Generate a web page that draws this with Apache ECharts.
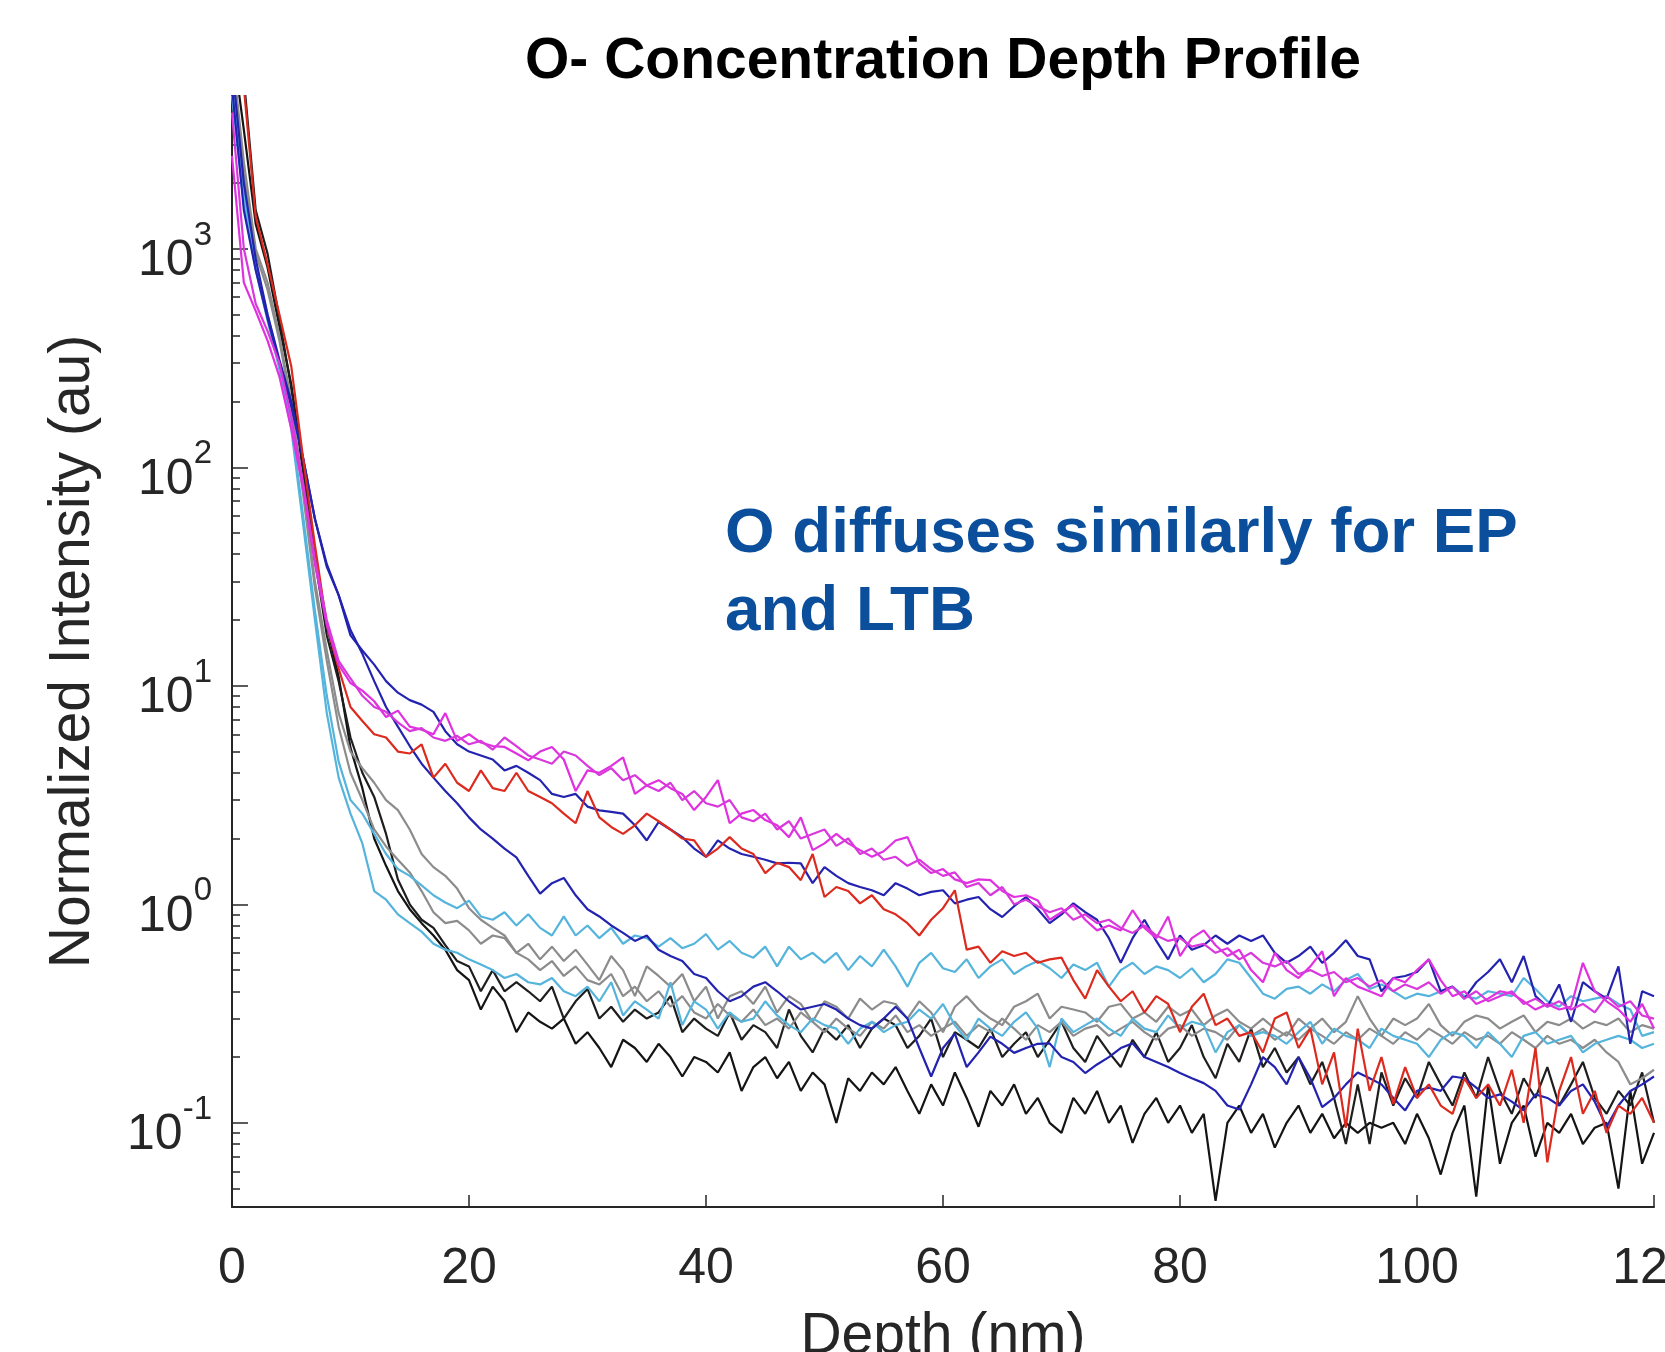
<!DOCTYPE html>
<html>
<head>
<meta charset="utf-8">
<script src="https://cdn.jsdelivr.net/npm/echarts@6/dist/echarts.min.js"></script>
<style>
html,body{margin:0;padding:0;background:#fff;}
#chart{width:1665px;height:1352px;}
</style>
</head>
<body>
<div id="chart"></div>
<script>
// ---- data ----
const titleText = 'O- Concentration Depth Profile';
const xAxisName = 'Depth (nm)';
const yAxisName = 'Normalized Intensity (au)';
const noteText = 'O diffuses similarly for EP\nand LTB';

const depth = [0,1,2,3,4,5,6,7,8,9,10,11,12,13,14,15,16,17,18,19,20,21,22,23,24,25,26,27,28,29,30,31,32,33,34,35,36,37,38,39,40,41,42,43,44,45,46,47,48,49,50,51,52,53,54,55,56,57,58,59,60,61,62,63,64,65,66,67,68,69,70,71,72,73,74,75,76,77,78,79,80,81,82,83,84,85,86,87,88,89,90,91,92,93,94,95,96,97,98,99,100,101,102,103,104,105,106,107,108,109,110,111,112,113,114,115,116,117,118,119,120];

const xTicks = [0, 20, 40, 60, 80, 100, 120];
const yMajorTicks = [0.1, 1, 10, 100, 1000];
const yMinorTicks = [0.05,0.06,0.07,0.08,0.09,0.2,0.3,0.4,0.5,0.6,0.7,0.8,0.9,2,3,4,5,6,7,8,9,20,30,40,50,60,70,80,90,200,300,400,500,600,700,800,900,2000,3000,4000];

const black2 = [9000,3500,1300,820,440,240,100,40,19,11,
5.2,3.4,2.0,1.5,1.15,0.95,0.82,0.72,0.62,0.5,
0.45,0.33,0.42,0.36,0.26,0.32,0.29,0.27,0.3,0.23,
0.26,0.22,0.18,0.24,0.22,0.19,0.23,0.2,0.163,0.2,
0.19,0.17,0.21,0.14,0.18,0.2,0.16,0.19,0.14,0.17,
0.15,0.1,0.16,0.14,0.17,0.15,0.18,0.14,0.11,0.15,
0.12,0.17,0.13,0.096,0.14,0.12,0.15,0.11,0.13,0.1,
0.09,0.13,0.11,0.14,0.1,0.12,0.081,0.11,0.13,0.1,
0.12,0.09,0.11,0.044,0.1,0.12,0.09,0.11,0.077,0.1,
0.12,0.09,0.11,0.085,0.1,0.09,0.1,0.095,0.1,0.08,
0.11,0.085,0.058,0.09,0.12,0.046,0.15,0.065,0.1,0.12,
0.07,0.1,0.09,0.11,0.08,0.095,0.1,0.05,0.14,0.065,0.09];

const black1 = [20000,6000,1500,950,480,230,95,38,17,10.5,
5.8,4.0,3.1,2.1,1.3,1.0,0.85,0.78,0.65,0.55,
0.52,0.4,0.5,0.4,0.44,0.4,0.36,0.42,0.3,0.36,
0.41,0.3,0.34,0.29,0.33,0.3,0.32,0.38,0.26,0.3,
0.27,0.25,0.32,0.24,0.28,0.26,0.22,0.33,0.25,0.21,
0.27,0.24,0.28,0.22,0.27,0.3,0.28,0.22,0.25,0.3,
0.2,0.26,0.24,0.22,0.27,0.2,0.23,0.26,0.2,0.24,
0.29,0.22,0.19,0.25,0.21,0.18,0.24,0.2,0.26,0.19,
0.22,0.28,0.2,0.16,0.23,0.19,0.27,0.18,0.22,0.17,
0.2,0.15,0.19,0.13,0.08,0.15,0.08,0.17,0.12,0.16,
0.13,0.19,0.15,0.12,0.17,0.13,0.2,0.14,0.11,0.16,
0.13,0.18,0.12,0.15,0.19,0.13,0.11,0.14,0.12,0.17,0.1];

const gray1 = [8000,2500,1000,700,400,200,80,30,14.5,7.5,
5.0,4.2,3.6,3.0,2.7,2.2,1.7,1.48,1.35,1.18,
0.96,0.85,0.78,0.72,0.6,0.66,0.56,0.64,0.55,0.62,
0.53,0.45,0.58,0.5,0.38,0.52,0.47,0.42,0.48,0.36,
0.42,0.3,0.38,0.4,0.35,0.42,0.32,0.38,0.35,0.29,
0.36,0.34,0.3,0.37,0.33,0.36,0.35,0.3,0.36,0.32,
0.26,0.34,0.38,0.33,0.3,0.28,0.34,0.36,0.39,0.3,
0.34,0.33,0.32,0.29,0.34,0.35,0.3,0.32,0.29,0.34,
0.31,0.33,0.28,0.31,0.33,0.29,0.27,0.3,0.27,0.25,
0.3,0.27,0.3,0.26,0.29,0.38,0.3,0.25,0.3,0.28,
0.3,0.35,0.28,0.25,0.29,0.31,0.3,0.27,0.29,0.31,
0.26,0.29,0.28,0.3,0.27,0.29,0.28,0.3,0.26,0.28,0.27];

const gray2 = [7000,2200,950,650,380,190,75,28,13,6.5,
4.0,3.0,2.2,1.84,1.6,1.4,1.15,0.92,0.82,0.84,
0.76,0.66,0.72,0.7,0.6,0.56,0.5,0.55,0.47,0.52,
0.45,0.43,0.48,0.38,0.42,0.36,0.4,0.34,0.38,0.32,
0.3,0.35,0.31,0.29,0.33,0.28,0.3,0.27,0.32,0.29,
0.26,0.3,0.27,0.25,0.29,0.27,0.31,0.26,0.28,0.25,
0.27,0.29,0.25,0.28,0.26,0.3,0.27,0.24,0.28,0.26,
0.29,0.25,0.27,0.28,0.25,0.27,0.29,0.26,0.24,0.27,
0.28,0.25,0.27,0.26,0.24,0.28,0.25,0.27,0.24,0.26,
0.24,0.27,0.25,0.23,0.26,0.24,0.27,0.25,0.23,0.26,
0.24,0.27,0.25,0.23,0.26,0.24,0.25,0.23,0.26,0.24,
0.22,0.25,0.23,0.24,0.22,0.24,0.21,0.19,0.15,0.16,0.175];

const cyan1 = [6000,1800,850,500,300,160,60,22,9,4.5,
3.0,2.6,2.1,1.7,1.45,1.35,1.22,1.1,1.02,0.96,
1.04,0.88,0.85,0.92,0.8,0.9,0.78,0.72,0.88,0.72,
0.8,0.7,0.78,0.66,0.72,0.7,0.64,0.7,0.63,0.66,
0.73,0.62,0.68,0.6,0.57,0.64,0.52,0.64,0.56,0.6,
0.54,0.6,0.5,0.58,0.52,0.62,0.52,0.42,0.54,0.6,
0.51,0.49,0.56,0.46,0.52,0.56,0.48,0.52,0.55,0.51,
0.46,0.53,0.5,0.54,0.42,0.5,0.54,0.48,0.52,0.5,
0.46,0.51,0.44,0.48,0.56,0.54,0.46,0.39,0.37,0.41,
0.42,0.39,0.43,0.4,0.45,0.48,0.41,0.43,0.4,0.37,
0.39,0.38,0.4,0.42,0.38,0.37,0.4,0.39,0.38,0.46,
0.41,0.36,0.34,0.38,0.36,0.37,0.38,0.35,0.33,0.25,0.26];

const cyan2 = [5000,1600,800,470,280,150,55,20,7.5,3.8,
2.6,1.9,1.15,1.05,0.9,0.82,0.75,0.66,0.62,0.6,
0.56,0.53,0.5,0.46,0.48,0.44,0.43,0.46,0.4,0.38,
0.42,0.36,0.44,0.31,0.36,0.33,0.3,0.44,0.28,0.36,
0.33,0.27,0.32,0.29,0.3,0.36,0.31,0.28,0.26,0.3,
0.28,0.27,0.23,0.27,0.29,0.26,0.28,0.29,0.33,0.3,
0.35,0.28,0.24,0.3,0.27,0.25,0.29,0.32,0.27,0.18,
0.3,0.26,0.28,0.3,0.27,0.25,0.3,0.27,0.26,0.31,
0.27,0.29,0.28,0.21,0.26,0.28,0.25,0.26,0.25,0.23,
0.26,0.29,0.23,0.27,0.25,0.24,0.22,0.27,0.25,0.24,
0.23,0.2,0.24,0.26,0.25,0.22,0.26,0.23,0.2,0.25,
0.26,0.23,0.24,0.25,0.21,0.23,0.24,0.25,0.24,0.22,0.23];

const blueLow = [7000,2000,900,500,310,200,110,58,36,26,
18,14,10.5,8.0,6.5,5.3,4.4,3.8,3.3,2.9,
2.5,2.2,2.0,1.8,1.64,1.35,1.12,1.25,1.32,1.1,
0.95,0.88,0.8,0.74,0.68,0.72,0.62,0.58,0.55,0.48,
0.46,0.4,0.36,0.38,0.42,0.44,0.4,0.36,0.33,0.34,
0.35,0.33,0.3,0.28,0.27,0.3,0.34,0.3,0.22,0.163,
0.22,0.256,0.18,0.21,0.248,0.23,0.209,0.22,0.23,0.231,
0.2,0.19,0.169,0.185,0.2,0.22,0.231,0.2,0.19,0.18,
0.169,0.16,0.152,0.14,0.12,0.115,0.15,0.2,0.18,0.15,
0.2,0.16,0.118,0.13,0.15,0.17,0.16,0.15,0.13,0.114,
0.14,0.145,0.14,0.163,0.16,0.145,0.13,0.135,0.125,0.114,
0.135,0.13,0.12,0.14,0.15,0.125,0.096,0.12,0.14,0.15,0.163];

const blueUp = [5500,1500,800,480,300,190,110,58,35,26,
17,14.5,12.5,10.5,9.3,8.6,8.2,7.6,6.2,5.4,
5.0,4.8,4.6,4.1,4.3,4.0,3.7,3.2,3.1,3.2,
2.8,2.69,2.65,2.6,2.3,1.96,2.38,2.2,2.03,1.8,
1.65,1.96,1.8,1.7,1.65,1.6,1.54,1.55,1.54,1.25,
1.48,1.35,1.25,1.2,1.16,1.1,1.25,1.18,1.1,1.14,
1.16,1.01,1.05,1.08,0.95,0.875,0.98,1.08,0.95,0.82,
0.9,1.01,0.92,0.85,0.7,0.54,0.7,0.85,0.68,0.56,
0.72,0.62,0.65,0.72,0.66,0.72,0.68,0.72,0.6,0.54,
0.58,0.64,0.54,0.6,0.685,0.58,0.56,0.4,0.46,0.47,
0.49,0.56,0.4,0.42,0.37,0.44,0.49,0.56,0.44,0.58,
0.38,0.34,0.43,0.29,0.44,0.4,0.37,0.52,0.23,0.4,0.38];

const red1 = [30000,5500,1400,850,500,290,110,44,19,12,
8.0,6.9,6.0,5.8,5.0,4.9,5.4,3.8,4.4,3.6,
3.3,4.1,3.4,3.3,4.0,3.3,3.1,2.9,2.6,2.35,
3.3,2.5,2.26,2.1,2.3,2.6,2.4,2.2,2.0,1.96,
1.65,1.8,2.03,1.8,1.7,1.39,1.55,1.48,1.29,1.7,
1.08,1.2,1.15,1.01,1.1,0.95,0.9,0.82,0.72,0.85,
0.96,1.16,0.62,0.64,0.54,0.61,0.58,0.6,0.54,0.56,
0.57,0.45,0.37,0.5,0.42,0.36,0.4,0.32,0.38,0.35,
0.26,0.34,0.39,0.28,0.3,0.25,0.26,0.21,0.3,0.32,
0.22,0.27,0.15,0.21,0.095,0.27,0.14,0.2,0.122,0.18,
0.13,0.15,0.12,0.11,0.16,0.13,0.15,0.12,0.175,0.1,
0.22,0.066,0.14,0.2,0.11,0.14,0.09,0.12,0.11,0.13,0.1];

const magenta1 = [2660,700,520,380,260,150,80,36,19,12.5,
10.3,9.5,8.5,7.2,7.7,6.5,6.3,6.0,7.5,5.6,
6.0,5.5,5.3,5.25,4.9,4.56,5.0,5.25,4.6,3.3,
4.1,4.0,4.3,4.7,3.2,3.5,3.7,3.4,3.2,2.7,
3.1,3.7,2.35,2.6,2.7,2.43,2.3,2.03,2.5,1.77,
1.9,2.1,1.9,1.77,1.65,1.75,1.96,2.03,1.54,1.39,
1.45,1.3,1.25,1.3,1.29,1.15,1.08,1.1,1.04,0.85,
0.92,0.99,0.85,0.76,0.8,0.76,0.94,0.78,0.7,0.88,
0.58,0.7,0.76,0.65,0.58,0.62,0.5,0.44,0.6,0.5,
0.46,0.52,0.61,0.38,0.46,0.42,0.4,0.38,0.46,0.44,
0.5,0.56,0.45,0.38,0.4,0.35,0.37,0.4,0.39,0.36,
0.33,0.35,0.33,0.34,0.54,0.4,0.36,0.33,0.29,0.35,0.27];

const magenta2 = [4200,1000,560,420,300,170,85,38,20,13,
10.8,9,8.0,7.6,6.8,6.2,6.4,5.8,5.6,5.9,
5.4,5.6,5.1,5.8,5.3,4.8,4.6,4.4,5.0,4.8,
4.3,3.9,4.2,3.7,3.9,3.5,3.3,3.6,3.0,3.3,
2.9,2.8,3.0,2.5,2.4,2.6,2.2,2.4,2.0,2.1,
2.2,1.85,2.0,1.7,1.8,1.6,1.65,1.5,1.6,1.45,
1.35,1.4,1.2,1.25,1.1,1.2,1.0,1.05,0.98,0.92,
0.96,0.85,0.9,0.82,0.85,0.78,0.74,0.8,0.72,0.68,
0.7,0.64,0.66,0.6,0.63,0.56,0.6,0.54,0.52,0.55,
0.48,0.5,0.47,0.49,0.44,0.46,0.42,0.45,0.4,0.43,
0.41,0.44,0.39,0.42,0.37,0.4,0.36,0.38,0.4,0.35,
0.37,0.34,0.36,0.33,0.35,0.32,0.38,0.34,0.36,0.31,0.3];

const seriesNames = ['LTB black 2','LTB black 1','gray 1','gray 2','light blue 1','light blue 2','blue 2','blue 1','red','magenta 1','magenta 2'];
const seriesValues = [black2, black1, gray1, gray2, cyan1, cyan2, blueLow, blueUp, red1, magenta1, magenta2];
const seriesColors = ['#141414','#1e1e1e','#8c8c8c','#8c8c8c','#55b4dc','#55b4dc','#2323b0','#2323b0','#dc2a1e','#e030e0','#d838dc'];

// ---- chart ----
const FONT = '"Liberation Sans", Arial, Helvetica, sans-serif';
const AXIS_COLOR = '#262626';
const Y_MIN = 0.0412, Y_MAX = 5000;

const chart = echarts.init(document.getElementById('chart'), null, {renderer: 'canvas'});

const series = seriesValues.map((vals, k) => ({
  name: seriesNames[k],
  type: 'line',
  yAxisIndex: 0,
  data: depth.map((d, i) => [d, vals[i]]),
  showSymbol: false,
  symbol: 'none',
  clip: true,
  lineStyle: {color: seriesColors[k], width: 2.2},
  itemStyle: {color: seriesColors[k]},
  emphasis: {disabled: true},
  silent: true,
  animation: false
}));

const option = {
  backgroundColor: '#ffffff',
  animation: false,
  textStyle: {fontFamily: FONT},
  grid: {left: 232, right: 11, top: 96, bottom: 145, containLabel: false, outerBoundsMode: 'none'},
  xAxis: {
    type: 'value', min: 0, max: 120, interval: 20,
    name: xAxisName, nameLocation: 'middle', nameGap: 102, nameMoveOverlap: false,
    nameTextStyle: {fontSize: 57, color: AXIS_COLOR, fontFamily: FONT},
    axisLine: {show: true, lineStyle: {color: AXIS_COLOR, width: 2}},
    axisTick: {show: true, inside: true, length: 12, lineStyle: {color: AXIS_COLOR, width: 1.5}, customValues: xTicks},
    axisLabel: {show: true, margin: 37, fontSize: 50, color: AXIS_COLOR, fontFamily: FONT, customValues: xTicks},
    splitLine: {show: false}
  },
  yAxis: [{
    type: 'log', logBase: 10, min: Y_MIN, max: Y_MAX, position: 'left',
    name: yAxisName, nameLocation: 'middle', nameGap: 130, nameRotate: 90, nameMoveOverlap: false,
    nameTextStyle: {fontSize: 57, color: AXIS_COLOR, fontFamily: FONT},
    axisLine: {show: true, lineStyle: {color: AXIS_COLOR, width: 2}},
    axisTick: {show: true, inside: true, length: 16, lineStyle: {color: AXIS_COLOR, width: 1.5}, customValues: yMajorTicks},
    axisLabel: {
      show: true, margin: 20, color: AXIS_COLOR, fontFamily: FONT,
      customValues: yMajorTicks,
      formatter: function (v) {
        const e = Math.round(Math.log10(v));
        return '{b|10}{s|' + e + '}';
      },
      rich: {
        b: {fontSize: 50, lineHeight: 50, padding: [25, 0, 0, 0], color: AXIS_COLOR, fontFamily: FONT},
        s: {fontSize: 33, lineHeight: 33, padding: [8, 0, 34, 0], color: AXIS_COLOR, fontFamily: FONT}
      }
    },
    splitLine: {show: false},
    minorTick: {show: false}
  }, {
    type: 'log', logBase: 10, min: Y_MIN, max: Y_MAX, position: 'left', offset: 0,
    axisLine: {show: false},
    axisTick: {show: true, inside: true, length: 8, lineStyle: {color: AXIS_COLOR, width: 1.5}, customValues: yMinorTicks},
    axisLabel: {show: false},
    splitLine: {show: false}
  }],
  graphic: [{
    type: 'text', x: 943, y: 62, silent: true,
    style: {text: titleText, textAlign: 'center', textVerticalAlign: 'middle', fontSize: 57, fontWeight: 'bold', fontFamily: FONT, fill: '#000000'}
  }, {
    type: 'text', x: 725, y: 495, silent: true,
    style: {text: noteText, textAlign: 'left', textVerticalAlign: 'top', fontSize: 63.7, lineHeight: 78, fontWeight: 'bold', fontFamily: FONT, fill: '#0b4f9c'}
  }],
  series: series
};

chart.setOption(option);
</script>
</body>
</html>
